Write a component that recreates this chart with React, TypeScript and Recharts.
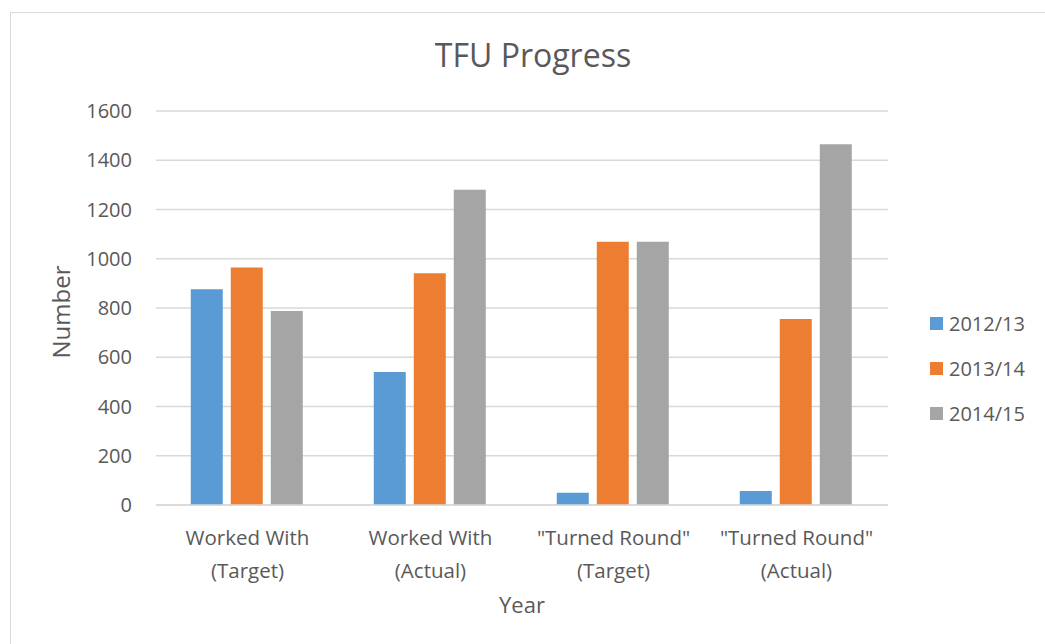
import { BarChart, Bar, XAxis, YAxis, CartesianGrid, Legend } from 'recharts';

const categories = ['Worked With (Target)', 'Worked With (Actual)', '"Turned Round" (Target)', '"Turned Round" (Actual)'];
const y2012 = [876, 540, 50, 57];
const y2013 = [964, 941, 1069, 755];
const y2014 = [788, 1280, 1069, 1465];
const yTicks = [0, 200, 400, 600, 800, 1000, 1200, 1400, 1600];

const series = [
  { key: 'y2012', name: '2012/13', color: '#5B9BD5' },
  { key: 'y2013', name: '2013/14', color: '#ED7D31' },
  { key: 'y2014', name: '2014/15', color: '#A5A5A5' },
];

const data = categories.map((c, i) => ({ name: c, y2012: y2012[i], y2013: y2013[i], y2014: y2014[i] }));

const FONT = '"Open Sans", sans-serif';
const TEXT = '#595959';

function CategoryTick(props: any) {
  const { x, y, payload } = props;
  const s = String(payload.value);
  const cut = s.lastIndexOf(' (');
  const lines = [s.slice(0, cut), s.slice(cut + 1)];
  return (
    <g>
      {lines.map((l, i) => (
        <text key={i} x={x} y={y + 24 + i * 33} textAnchor="middle" dominantBaseline="central"
          fontFamily={FONT} fontSize={20.5} fill={TEXT}>{l}</text>
      ))}
    </g>
  );
}

function LegendBox(props: any) {
  const items = props.payload || [];
  return (
    <div style={{ fontFamily: FONT, fontSize: 20, color: TEXT }}>
      {items.map((it: any) => (
        <div key={it.value} style={{ display: 'flex', alignItems: 'center', height: 45 }}>
          <span style={{ width: 13, height: 13, background: it.color, marginRight: 6, display: 'inline-block' }} />
          <span>{it.value}</span>
        </div>
      ))}
    </div>
  );
}

export default function App() {
  return (
    <div style={{ position: 'absolute', left: 10, top: 12, width: 1040, height: 640, border: '1px solid #D9D9D9', background: '#fff' }}>
      <div style={{ position: 'absolute', left: 0, top: 41, width: 1044, textAlign: 'center', transform: 'translateY(-50%)',
        fontFamily: FONT, fontSize: 32, color: TEXT, pointerEvents: 'none', zIndex: 1 }}>
        TFU Progress
      </div>
      <BarChart width={1034} height={631} data={data}
        margin={{ top: 98, right: 157, bottom: 0, left: 0 }}
        barCategoryGap="19%" barGap={8}>
        <CartesianGrid vertical={false} stroke="#D9D9D9" strokeWidth={1.5} />
        <XAxis dataKey="name" height={139} tickLine={false} axisLine={{ stroke: '#D9D9D9', strokeWidth: 1.5 }}
          tick={<CategoryTick />} interval={0}
          label={(p: any) => {
            const vb = p.viewBox;
            return <text x={vb.x + vb.width / 2} y={vb.y + 99} textAnchor="middle" dominantBaseline="central"
              fontFamily={FONT} fontSize={22} fill={TEXT}>Year</text>;
          }} />
        <YAxis width={145} domain={[0, 1600]} ticks={yTicks} tickLine={false} axisLine={false}
          tickSize={0} tickMargin={24} tick={{ fontFamily: FONT, fontSize: 20, fill: TEXT }}
          label={(p: any) => {
            const vb = p.viewBox;
            const cx = vb.x + 49;
            const cy = vb.y + vb.height / 2 + 4;
            return <text x={cx} y={cy} transform={`rotate(-90, ${cx}, ${cy})`} textAnchor="middle" dominantBaseline="central"
              fontFamily={FONT} fontSize={24} fill={TEXT}>Number</text>;
          }} />
        <Legend layout="horizontal" verticalAlign="middle" align="center" content={<LegendBox />}
          wrapperStyle={{ left: 919, top: 288, width: 115, height: 140 }} />
        {series.map((s) => (
          <Bar key={s.key} dataKey={s.key} name={s.name} fill={s.color} isAnimationActive={false} />
        ))}
      </BarChart>
    </div>
  );
}
